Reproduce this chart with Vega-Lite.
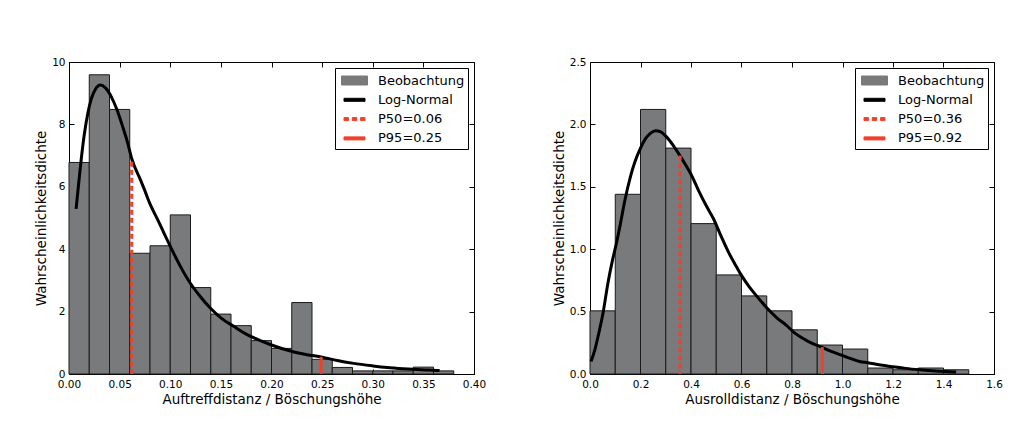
{
  "$schema": "https://vega.github.io/schema/vega-lite/v6.json",
  "padding": {"left": 34, "top": 56, "right": 5, "bottom": 5},
  "background": "white",
  "config": {
    "font": "DejaVu Sans",
    "view": {"stroke": "black", "strokeWidth": 1},
    "axis": {
      "grid": false,
      "domainColor": "black",
      "tickColor": "black",
      "labelColor": "black",
      "titleColor": "black",
      "labelFont": "DejaVu Sans",
      "titleFont": "DejaVu Sans",
      "labelFontSize": 10.5,
      "titleFontSize": 13.5,
      "titleFontWeight": "normal",
      "tickSize": -5,
      "titlePadding": 3,
      "labelFlush": false,
      "labelOverlap": false
    },
    "axisX": {"labelPadding": 10},
    "axisY": {"labelPadding": 9},
    "legend": {
      "orient": "top-right",
      "offset": 6,
      "padding": 3,
      "strokeColor": "black",
      "fillColor": "white",
      "cornerRadius": 0,
      "labelFont": "DejaVu Sans",
      "labelFontSize": 13,
      "labelColor": "black",
      "labelOffset": 21,
      "rowPadding": 2.3,
      "symbolSize": 324
    }
  },
  "datasets": {
    "hist1": [
      {"x0": 0.00, "x1": 0.02, "density": 6.78},
      {"x0": 0.02, "x1": 0.04, "density": 9.59},
      {"x0": 0.04, "x1": 0.06, "density": 8.48},
      {"x0": 0.06, "x1": 0.08, "density": 3.87},
      {"x0": 0.08, "x1": 0.10, "density": 4.11},
      {"x0": 0.10, "x1": 0.12, "density": 5.10},
      {"x0": 0.12, "x1": 0.14, "density": 2.77},
      {"x0": 0.14, "x1": 0.16, "density": 1.92},
      {"x0": 0.16, "x1": 0.18, "density": 1.55},
      {"x0": 0.18, "x1": 0.20, "density": 1.07},
      {"x0": 0.20, "x1": 0.22, "density": 0.82},
      {"x0": 0.22, "x1": 0.24, "density": 2.29},
      {"x0": 0.24, "x1": 0.26, "density": 0.47},
      {"x0": 0.26, "x1": 0.28, "density": 0.21},
      {"x0": 0.28, "x1": 0.30, "density": 0.10},
      {"x0": 0.30, "x1": 0.32, "density": 0.10},
      {"x0": 0.32, "x1": 0.34, "density": 0.10},
      {"x0": 0.34, "x1": 0.36, "density": 0.22},
      {"x0": 0.36, "x1": 0.38, "density": 0.10}
    ],
    "curve1": [
      {"x": 0.007, "y": 5.29}, {"x": 0.010, "y": 6.25}, {"x": 0.012, "y": 6.86},
      {"x": 0.015, "y": 7.65}, {"x": 0.0186, "y": 8.36}, {"x": 0.022, "y": 8.82},
      {"x": 0.026, "y": 9.12}, {"x": 0.031, "y": 9.26}, {"x": 0.036, "y": 9.17},
      {"x": 0.0417, "y": 8.89}, {"x": 0.047, "y": 8.5}, {"x": 0.053, "y": 7.93},
      {"x": 0.058, "y": 7.4}, {"x": 0.062, "y": 6.9}, {"x": 0.0706, "y": 6.22},
      {"x": 0.0746, "y": 5.9}, {"x": 0.08, "y": 5.45}, {"x": 0.0877, "y": 4.94},
      {"x": 0.094, "y": 4.5}, {"x": 0.1002, "y": 4.08}, {"x": 0.11, "y": 3.45},
      {"x": 0.12, "y": 2.9}, {"x": 0.13, "y": 2.47}, {"x": 0.14, "y": 2.1},
      {"x": 0.15, "y": 1.8}, {"x": 0.163, "y": 1.52}, {"x": 0.175, "y": 1.28},
      {"x": 0.189, "y": 1.07}, {"x": 0.2, "y": 0.93}, {"x": 0.2204, "y": 0.72},
      {"x": 0.235, "y": 0.62}, {"x": 0.25, "y": 0.54}, {"x": 0.265, "y": 0.43},
      {"x": 0.281, "y": 0.34}, {"x": 0.3, "y": 0.26}, {"x": 0.314, "y": 0.21},
      {"x": 0.33, "y": 0.17}, {"x": 0.34, "y": 0.15}, {"x": 0.355, "y": 0.13},
      {"x": 0.366, "y": 0.11}
    ],
    "p1": [
      {"label": "P50=0.06", "x": 0.062, "top": 6.8},
      {"label": "P95=0.25", "x": 0.249, "top": 0.55}
    ],
    "hist2": [
      {"x0": 0.0, "x1": 0.1, "density": 0.506},
      {"x0": 0.1, "x1": 0.2, "density": 1.44},
      {"x0": 0.2, "x1": 0.3, "density": 2.12},
      {"x0": 0.3, "x1": 0.4, "density": 1.81},
      {"x0": 0.4, "x1": 0.5, "density": 1.205},
      {"x0": 0.5, "x1": 0.6, "density": 0.794},
      {"x0": 0.6, "x1": 0.7, "density": 0.626},
      {"x0": 0.7, "x1": 0.8, "density": 0.506},
      {"x0": 0.8, "x1": 0.9, "density": 0.354},
      {"x0": 0.9, "x1": 1.0, "density": 0.232},
      {"x0": 1.0, "x1": 1.1, "density": 0.20},
      {"x0": 1.1, "x1": 1.2, "density": 0.048},
      {"x0": 1.2, "x1": 1.3, "density": 0.034},
      {"x0": 1.3, "x1": 1.4, "density": 0.048},
      {"x0": 1.4, "x1": 1.5, "density": 0.034}
    ],
    "curve2": [
      {"x": 0.004, "y": 0.10}, {"x": 0.02, "y": 0.2}, {"x": 0.033, "y": 0.31},
      {"x": 0.05, "y": 0.47}, {"x": 0.072, "y": 0.74}, {"x": 0.09, "y": 0.92},
      {"x": 0.106, "y": 1.06}, {"x": 0.12, "y": 1.2}, {"x": 0.139, "y": 1.4},
      {"x": 0.16, "y": 1.58}, {"x": 0.178, "y": 1.7}, {"x": 0.2, "y": 1.81},
      {"x": 0.218, "y": 1.88}, {"x": 0.24, "y": 1.93}, {"x": 0.26, "y": 1.95},
      {"x": 0.28, "y": 1.94}, {"x": 0.303, "y": 1.9}, {"x": 0.33, "y": 1.83},
      {"x": 0.356, "y": 1.75}, {"x": 0.38, "y": 1.67}, {"x": 0.4, "y": 1.6},
      {"x": 0.43, "y": 1.47}, {"x": 0.46, "y": 1.35}, {"x": 0.49, "y": 1.24},
      {"x": 0.52, "y": 1.1}, {"x": 0.55, "y": 0.97}, {"x": 0.58, "y": 0.86},
      {"x": 0.6, "y": 0.79}, {"x": 0.63, "y": 0.7}, {"x": 0.666, "y": 0.61},
      {"x": 0.7, "y": 0.53}, {"x": 0.74, "y": 0.45}, {"x": 0.778, "y": 0.39},
      {"x": 0.81, "y": 0.33}, {"x": 0.844, "y": 0.285}, {"x": 0.88, "y": 0.245},
      {"x": 0.917, "y": 0.215}, {"x": 0.95, "y": 0.185}, {"x": 0.99, "y": 0.155},
      {"x": 1.03, "y": 0.125}, {"x": 1.068, "y": 0.10}, {"x": 1.1, "y": 0.09},
      {"x": 1.15, "y": 0.072}, {"x": 1.2, "y": 0.058}, {"x": 1.25, "y": 0.045},
      {"x": 1.306, "y": 0.034}, {"x": 1.37, "y": 0.024}, {"x": 1.45, "y": 0.016}
    ],
    "p2": [
      {"label": "P50=0.36", "x": 0.357, "top": 1.75},
      {"label": "P95=0.92", "x": 0.92, "top": 0.215}
    ]
  },
  "spacing": 64,
  "resolve": {"scale": {"color": "independent"}},
  "hconcat": [
    {
      "width": 405,
      "height": 312,
      "resolve": {"axis": {"x": "independent", "y": "independent"}},
      "layer": [
        {
          "data": {"name": "hist1"},
          "mark": {"type": "bar", "stroke": "#1a1a1a", "strokeWidth": 1},
          "encoding": {
            "x": {"field": "x0", "type": "quantitative", "scale": {"domain": [0, 0.4], "nice": false, "zero": false},
                  "axis": {"values": [0, 0.05, 0.1, 0.15, 0.2, 0.25, 0.3, 0.35, 0.4], "format": ".2f", "title": "Auftreffdistanz / Böschungshöhe"}},
            "x2": {"field": "x1"},
            "y": {"field": "density", "type": "quantitative", "scale": {"domain": [0, 10], "nice": false},
                  "axis": {"values": [0, 2, 4, 6, 8, 10], "format": "d", "title": "Wahrscheinlichkeitsdichte"}},
            "y2": {"datum": 0},
            "color": {
              "datum": "Beobachtung", "type": "nominal",
              "scale": {"domain": ["Beobachtung", "Log-Normal", "P50=0.06", "P95=0.25"], "range": ["#797a7c", "black", "#f0402a", "#f0402a"]},
              "legend": {
                "title": null,
                "padding": 3,
                "rowPadding": 2.3,
                "labelOffset": 21,
                "symbolType": {"expr": "datum.value === 'Beobachtung' ? 'M-0.666,-0.5H2.222V0.5H-0.666Z' : (indexof(datum.value, 'P50') === 0 ? 'M-0.389,-0.167H0.101V0.167H-0.389Z M0.533,-0.167H1.023V0.167H0.533Z M1.455,-0.167H1.945V0.167H1.455Z' : 'M-0.389,-0.167H1.945V0.167H-0.389Z')"},
                "symbolStrokeColor": {"expr": "datum.value === 'Beobachtung' ? 'black' : 'transparent'"},
                "symbolStrokeWidth": 1,
                "symbolOpacity": 1
              }
            }
          }
        },
        {
          "data": {"name": "curve1"},
          "mark": {"type": "line", "strokeWidth": 3, "interpolate": "monotone"},
          "encoding": {
            "x": {"field": "x", "type": "quantitative",
                  "axis": {"orient": "top", "values": [0, 0.05, 0.1, 0.15, 0.2, 0.25, 0.3, 0.35, 0.4], "labels": false, "title": null, "domain": false}},
            "y": {"field": "y", "type": "quantitative",
                  "axis": {"orient": "right", "values": [0, 2, 4, 6, 8, 10], "labels": false, "title": null, "domain": false}},
            "color": {"datum": "Log-Normal", "type": "nominal"}
          }
        },
        {
          "data": {"name": "p1"},
          "transform": [{"filter": "datum.label === 'P50=0.06'"}],
          "mark": {"type": "rule", "strokeWidth": 3, "strokeDash": [5, 3]},
          "encoding": {
            "x": {"field": "x", "type": "quantitative", "axis": null},
            "y": {"field": "top", "type": "quantitative", "axis": null},
            "y2": {"datum": 0},
            "color": {"datum": "P50=0.06", "type": "nominal"}
          }
        },
        {
          "data": {"name": "p1"},
          "transform": [{"filter": "datum.label === 'P95=0.25'"}],
          "mark": {"type": "rule", "strokeWidth": 3},
          "encoding": {
            "x": {"field": "x", "type": "quantitative", "axis": null},
            "y": {"field": "top", "type": "quantitative", "axis": null},
            "y2": {"datum": 0},
            "color": {"datum": "P95=0.25", "type": "nominal"}
          }
        }
      ]
    },
    {
      "width": 404,
      "height": 312,
      "resolve": {"axis": {"x": "independent", "y": "independent"}},
      "layer": [
        {
          "data": {"name": "hist2"},
          "mark": {"type": "bar", "stroke": "#1a1a1a", "strokeWidth": 1},
          "encoding": {
            "x": {"field": "x0", "type": "quantitative", "scale": {"domain": [0, 1.6], "nice": false, "zero": false},
                  "axis": {"values": [0, 0.2, 0.4, 0.6, 0.8, 1.0, 1.2, 1.4, 1.6], "format": ".1f", "title": "Ausrolldistanz / Böschungshöhe"}},
            "x2": {"field": "x1"},
            "y": {"field": "density", "type": "quantitative", "scale": {"domain": [0, 2.5], "nice": false},
                  "axis": {"values": [0, 0.5, 1.0, 1.5, 2.0, 2.5], "format": ".1f", "title": "Wahrscheinlichkeitsdichte"}},
            "y2": {"datum": 0},
            "color": {
              "datum": "Beobachtung", "type": "nominal",
              "scale": {"domain": ["Beobachtung", "Log-Normal", "P50=0.36", "P95=0.92"], "range": ["#797a7c", "black", "#f0402a", "#f0402a"]},
              "legend": {
                "title": null,
                "padding": 3,
                "rowPadding": 2.3,
                "labelOffset": 21,
                "symbolType": {"expr": "datum.value === 'Beobachtung' ? 'M-0.666,-0.5H2.222V0.5H-0.666Z' : (indexof(datum.value, 'P50') === 0 ? 'M-0.389,-0.167H0.101V0.167H-0.389Z M0.533,-0.167H1.023V0.167H0.533Z M1.455,-0.167H1.945V0.167H1.455Z' : 'M-0.389,-0.167H1.945V0.167H-0.389Z')"},
                "symbolStrokeColor": {"expr": "datum.value === 'Beobachtung' ? 'black' : 'transparent'"},
                "symbolStrokeWidth": 1,
                "symbolOpacity": 1
              }
            }
          }
        },
        {
          "data": {"name": "curve2"},
          "mark": {"type": "line", "strokeWidth": 3, "interpolate": "monotone"},
          "encoding": {
            "x": {"field": "x", "type": "quantitative",
                  "axis": {"orient": "top", "values": [0, 0.2, 0.4, 0.6, 0.8, 1.0, 1.2, 1.4, 1.6], "labels": false, "title": null, "domain": false}},
            "y": {"field": "y", "type": "quantitative",
                  "axis": {"orient": "right", "values": [0, 0.5, 1.0, 1.5, 2.0, 2.5], "labels": false, "title": null, "domain": false}},
            "color": {"datum": "Log-Normal", "type": "nominal"}
          }
        },
        {
          "data": {"name": "p2"},
          "transform": [{"filter": "datum.label === 'P50=0.36'"}],
          "mark": {"type": "rule", "strokeWidth": 3, "strokeDash": [5, 3]},
          "encoding": {
            "x": {"field": "x", "type": "quantitative", "axis": null},
            "y": {"field": "top", "type": "quantitative", "axis": null},
            "y2": {"datum": 0},
            "color": {"datum": "P50=0.36", "type": "nominal"}
          }
        },
        {
          "data": {"name": "p2"},
          "transform": [{"filter": "datum.label === 'P95=0.92'"}],
          "mark": {"type": "rule", "strokeWidth": 3},
          "encoding": {
            "x": {"field": "x", "type": "quantitative", "axis": null},
            "y": {"field": "top", "type": "quantitative", "axis": null},
            "y2": {"datum": 0},
            "color": {"datum": "P95=0.92", "type": "nominal"}
          }
        }
      ]
    }
  ]
}
